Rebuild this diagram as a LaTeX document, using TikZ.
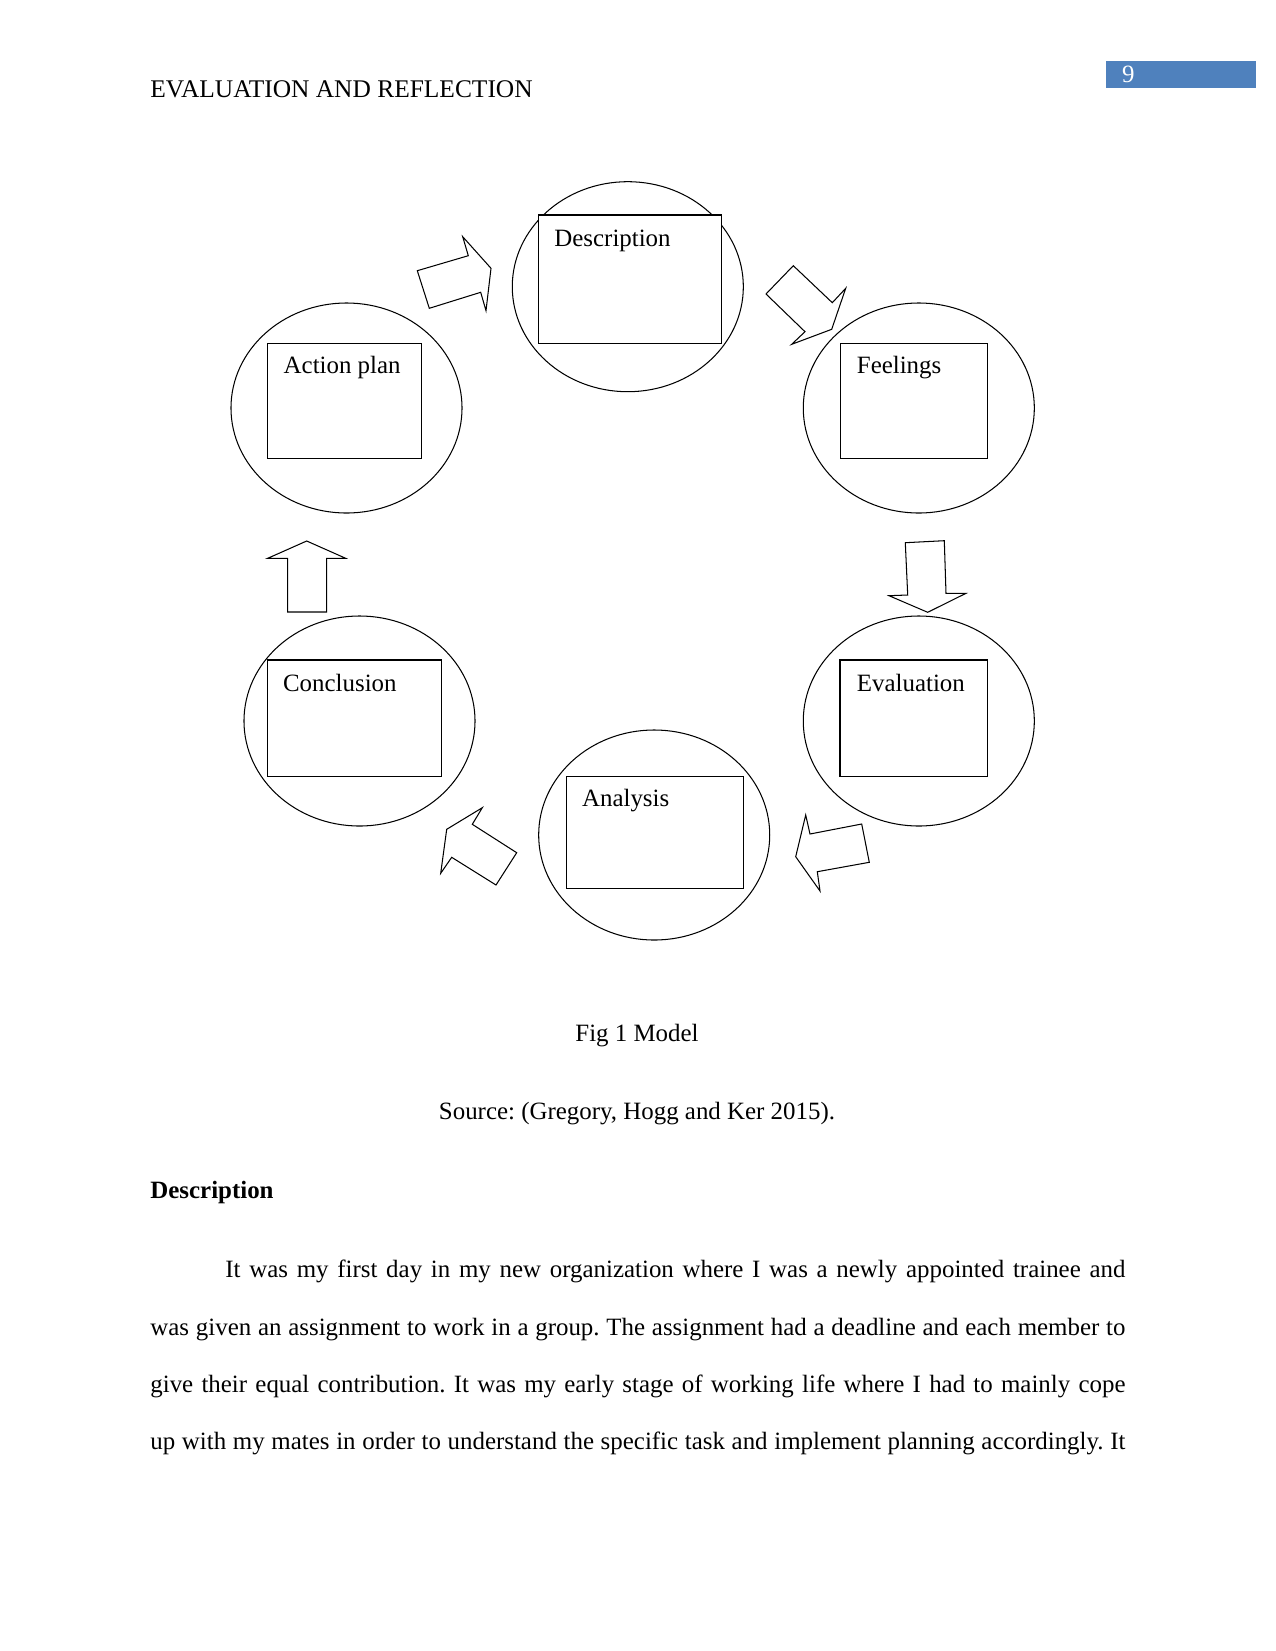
\documentclass[tikz,border=0pt]{standalone}
\usepackage{fontspec}
\setmainfont{Liberation Serif}
\usetikzlibrary{shapes.geometric}
\definecolor{pgblue}{HTML}{4F81BD}
\frenchspacing
\begin{document}
\begin{tikzpicture}[x=0.48bp,y=-0.48bp,
  ring/.style={draw, ellipse, line width=0.5bp, inner sep=0, outer sep=0, minimum width=110.9bp, minimum height=100.8bp},
  box/.style={draw, rectangle, line width=0.6bp, inner sep=0, outer sep=0, anchor=north west, fill=white},
  lbl/.style={inner sep=0, anchor=base west, font=\fontsize{12}{14}\selectfont},
  blockarrow/.style={draw, line width=0.5bp, line join=miter, fill=white},
  txt/.style={inner sep=0, anchor=base west, font=\fontsize{12}{14}\selectfont\frenchspacing},
  ctxt/.style={inner sep=0, anchor=base, font=\fontsize{12}{14}\selectfont\frenchspacing}]
\useasboundingbox (0,0) rectangle (1275,1651);

% header
\node[txt, font=\fontsize{12.25}{14}\selectfont] (hdr) at (150,97.3) {EVALUATION AND REFLECTION};
\fill[pgblue] (1106,61) rectangle (1255.7,88.3);
\node[txt, text=white] (pg) at (1121.7,82) {9};

% circles
\node[ring] (cD) at (627.8,286.7) {};
\node[ring] (cA) at (346.5,408) {};
\node[ring] (cF) at (918.8,408) {};
\node[ring] (cC) at (359.5,721) {};
\node[ring] (cE) at (918.8,721) {};
\node[ring] (cN) at (654.2,835) {};

% boxes
\node[box, minimum width=88.0bp, minimum height=61.6bp] (rD) at (538.3,215) {};
\node[box, minimum width=73.9bp, minimum height=55.2bp] (rA) at (267.7,343.3) {};
\node[box, minimum width=70.8bp, minimum height=55.2bp] (rF) at (840.3,343.3) {};
\node[box, minimum width=83.7bp, minimum height=56.0bp] (rC) at (267.3,660) {};
\node[box, minimum width=70.9bp, minimum height=56.0bp] (rE) at (840,660) {};
\node[box, minimum width=84.8bp, minimum height=53.6bp] (rN) at (566.7,776.7) {};

% labels
\node[lbl] (tD) at (554,246) {Description};
\node[lbl] (tA) at (283.3,373) {Action plan};
\node[lbl] (tF) at (856.5,373) {Feelings};
\node[lbl] (tC) at (282.7,691) {Conclusion};
\node[lbl] (tE) at (856.5,691) {Evaluation};
\node[lbl] (tN) at (581.7,806.7) {Analysis};

% block arrows
\draw[blockarrow] (417.3,270.7) -- (429.3,308.3) -- (480.7,292.3) -- (486,310.7) -- (491,268.3) -- (462.7,236.7) -- (468.3,255.7) -- cycle;
\draw[blockarrow] (766,294) -- (793.3,265.7) -- (832.3,302.7) -- (845.7,288.3) -- (831.7,329.3) -- (791.7,344.3) -- (805,331.7) -- cycle;
\draw[blockarrow] (905.3,542.7) -- (944.3,540.7) -- (946,593.3) -- (966,593.3) -- (927.7,612.3) -- (889,595.7) -- (907.7,595) -- cycle;
\draw[blockarrow] (861.7,824) -- (869.3,862.3) -- (817.3,871.7) -- (820,891) -- (795.7,856.7) -- (805.7,815) -- (810,834) -- cycle;
\draw[blockarrow] (516.7,852.7) -- (496,885) -- (451.7,857.3) -- (440.7,873.3) -- (446.7,829.3) -- (482.3,807.7) -- (472.3,824.3) -- cycle;
\draw[blockarrow] (287.7,612) -- (287.7,558.3) -- (267.7,558.3) -- (306.7,541) -- (345.7,558.3) -- (326.7,558.3) -- (326.7,612) -- cycle;

% caption and body
\node[ctxt] (fig) at (637,1041) {Fig 1 Model};
\node[ctxt] (src) at (637,1119) {Source: (Gregory, Hogg and Ker 2015).};
\node[txt, font=\fontsize{12}{14}\selectfont\bfseries] (head) at (150,1198) {Description};
\node[txt] (l1) at (225,1277) {\hbox to 432bp{It was my first day in my new organization where I was a newly appointed trainee and}};
\node[txt] (l2) at (150,1335) {\hbox to 468bp{was given an assignment to work in a group. The assignment had a deadline and each member to}};
\node[txt] (l3) at (150,1392.9) {\hbox to 468bp{give their equal contribution. It was my early stage of working life where I had to mainly cope}};
\node[txt] (l4) at (150,1449.7) {\hbox to 468bp{up with my mates in order to understand the specific task and implement planning accordingly. It}};
\end{tikzpicture}
\end{document}
